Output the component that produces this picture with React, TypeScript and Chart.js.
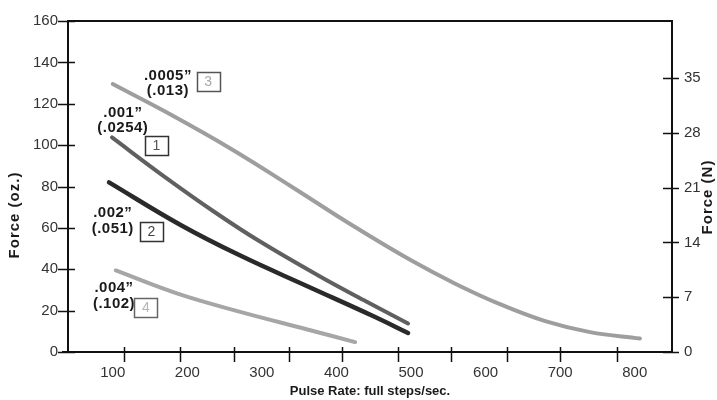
import React, { useEffect, useRef } from "react";
import { Chart, registerables } from "chart.js";

Chart.register(...registerables);

// Series: pulse rate (full steps/sec) and force (oz.)
const pulseRate3 = [100, 180, 260, 340, 420, 500, 560, 620, 680, 740, 807];
const force3 = [129.5, 114.3, 97.9, 79.9, 61.5, 44.3, 32.9, 23.0, 14.9, 9.6, 6.5];
const pulseRate1 = [99, 165, 236, 297, 378, 440, 496];
const force1 = [103.7, 85.9, 67.8, 53.5, 36.5, 24.4, 13.8];
const pulseRate2 = [95, 191, 271, 361, 449, 496];
const force2 = [82, 61.4, 46.6, 31.8, 17.4, 9.2];
const pulseRate4 = [104, 187, 271, 361, 425];
const force4 = [39.4, 28.2, 19.4, 10.9, 4.8];

// Axes
const xTickLabels = [100, 200, 300, 400, 500, 600, 700, 800];
const xTickMarks = [115, 190, 262, 336, 407, 482, 553, 629, 700, 776];
const ozTicks = [0, 20, 40, 60, 80, 100, 120, 140, 160];
const newtonTicks = [0, 7, 14, 21, 28, 35];

// Curve annotations (inch / mm, curve number)
const labelInch = ['.0005”', '.001”', '.002”', '.004”'];
const labelMm = ['(.013)', '(.0254)', '(.051)', '(.102)'];
const labelNum = ['3', '1', '2', '4'];
// anchors in data coordinates
const labelTextAt = [
  [174, 133.7, 126.2],
  [113.5, 115.4, 108.4],
  [100, 67.1, 59.6],
  [101.7, 31, 23.2],
];
const labelBoxAt = [
  [228, 130.9],
  [158.5, 99.7],
  [151.8, 58.2],
  [144.5, 21.6],
];
const boxStroke = ['#555', '#333', '#333', '#666'];
const boxText = ['#a8a8a8', '#555', '#444', '#b5b5b5'];

const FONT = '"Liberation Sans", Arial, Helvetica, sans-serif';

const toPoints = (xs: number[], ys: number[]) => xs.map((x, i) => ({ x, y: ys[i] }));

const decorPlugin = {
  id: 'decor',
  afterDraw(chart: any) {
    const ctx = chart.ctx as any;
    const { left, right, top, bottom } = chart.chartArea;
    const xs = chart.scales.x;
    const yl = chart.scales.y;
    const yr = chart.scales.y2;
    ctx.save();
    ctx.strokeStyle = '#111';
    ctx.lineWidth = 2;
    ctx.beginPath();
    ctx.moveTo(left, top);
    ctx.lineTo(right, top);
    ctx.lineTo(right, bottom);
    ctx.lineTo(left - 6, bottom);
    ctx.moveTo(left, top - 1);
    ctx.lineTo(left, bottom + 1);
    ctx.stroke();

    ctx.lineWidth = 1.5;
    ctx.beginPath();
    xTickMarks.forEach((v) => {
      const px = Math.round(xs.getPixelForValue(v)) + 0.5;
      ctx.moveTo(px, bottom - 5);
      ctx.lineTo(px, bottom + 10);
    });
    ozTicks.forEach((v) => {
      const py = Math.round(yl.getPixelForValue(v)) + 0.5;
      ctx.moveTo(left - 10, py);
      ctx.lineTo(left + 7, py);
    });
    newtonTicks.forEach((v) => {
      const py = Math.round(yr.getPixelForValue(v)) + 0.5;
      ctx.moveTo(right - 9, py);
      ctx.lineTo(right + 7, py);
    });
    ctx.stroke();

    // axis titles
    ctx.fillStyle = '#1a1a1a';
    ctx.textAlign = 'center';
    ctx.textBaseline = 'middle';
    ctx.font = `bold 13px ${FONT}`;
    ctx.fillText('Pulse Rate: full steps/sec.', (left + right) / 2, 391);
    ctx.save();
    ctx.letterSpacing = '1px';
    ctx.translate(15, 215);
    ctx.rotate(-Math.PI / 2);
    ctx.font = `bold 15px ${FONT}`;
    ctx.fillText('Force (oz.)', 0, 0);
    ctx.restore();
    ctx.save();
    ctx.letterSpacing = '1px';
    ctx.translate(708, 197);
    ctx.rotate(-Math.PI / 2);
    ctx.font = `bold 15px ${FONT}`;
    ctx.fillText('Force (N)', 0, 0);
    ctx.restore();

    // curve labels
    for (let i = 0; i < labelInch.length; i++) {
      const [tx, ty1, ty2] = labelTextAt[i];
      const px = xs.getPixelForValue(tx);
      ctx.save();
      ctx.letterSpacing = '0.5px';
      ctx.fillStyle = '#1a1a1a';
      ctx.font = `bold 15px ${FONT}`;
      ctx.fillText(labelInch[i], px, yl.getPixelForValue(ty1));
      ctx.fillText(labelMm[i], px, yl.getPixelForValue(ty2));
      ctx.restore();
      const [bx, by] = labelBoxAt[i];
      const bpx = xs.getPixelForValue(bx);
      const bpy = yl.getPixelForValue(by);
      ctx.strokeStyle = boxStroke[i];
      ctx.lineWidth = 1.5;
      ctx.strokeRect(Math.round(bpx - 11.5) + 0.5, Math.round(bpy - 9.5) + 0.5, 23, 19);
      ctx.fillStyle = boxText[i];
      ctx.font = `14px ${FONT}`;
      ctx.fillText(labelNum[i], bpx, bpy + 0.5);
    }
    ctx.restore();
  },
};

export default function App() {
  const ref = useRef<HTMLCanvasElement | null>(null);
  useEffect(() => {
    if (!ref.current) return;
    const lineDs = (label: string, xs: number[], ys: number[], color: string, w: number) => ({
      label,
      data: toPoints(xs, ys),
      borderColor: color,
      backgroundColor: color,
      borderWidth: w,
      pointRadius: 0,
      tension: 0.4,
      borderCapStyle: 'round' as const,
      fill: false,
      yAxisID: 'y',
    });
    const tickFont = { family: FONT, size: 15 };
    const chart = new Chart(ref.current, {
      type: 'line',
      data: {
        datasets: [
          lineDs('3', pulseRate3, force3, '#9e9e9e', 4),
          lineDs('1', pulseRate1, force1, '#606060', 4),
          lineDs('2', pulseRate2, force2, '#2a2a2a', 4.5),
          lineDs('4', pulseRate4, force4, '#a6a6a6', 4),
        ],
      },
      options: {
        animation: false,
        responsive: false,
        layout: { padding: { left: 0, right: 0, top: 11, bottom: 0 } },
        plugins: { legend: { display: false }, tooltip: { enabled: false } },
        scales: {
          x: {
            type: 'linear',
            min: 40,
            max: 850,
            grid: { display: false, drawTicks: false },
            border: { display: false },
            afterBuildTicks: (s: any) => {
              s.ticks = xTickLabels.map((v) => ({ value: v }));
            },
            afterFit: (s: any) => {
              s.height = 48;
            },
            ticks: { font: tickFont, color: '#333', padding: 12, maxRotation: 0, autoSkip: false },
          },
          y: {
            type: 'linear',
            position: 'left',
            min: 0,
            max: 160,
            grid: { display: false, drawTicks: false },
            border: { display: false },
            afterBuildTicks: (s: any) => {
              s.ticks = ozTicks.map((v) => ({ value: v }));
            },
            afterFit: (s: any) => {
              s.width = 68;
            },
            ticks: { font: tickFont, color: '#333', padding: 10, autoSkip: false },
          },
          y2: {
            type: 'linear',
            position: 'right',
            min: 0,
            max: 42.3,
            grid: { display: false, drawTicks: false },
            border: { display: false },
            afterBuildTicks: (s: any) => {
              s.ticks = newtonTicks.map((v) => ({ value: v }));
            },
            afterFit: (s: any) => {
              s.width = 45;
            },
            ticks: { font: tickFont, color: '#333', padding: 12, autoSkip: false },
          },
        },
      },
      plugins: [decorPlugin],
    });
    return () => chart.destroy();
  }, []);
  return (
    <div style={{ position: 'absolute', left: 0, top: 0, width: 717, height: 400, background: '#fff' }}>
      <canvas ref={ref} width={717} height={400} style={{ display: 'block' }} />
    </div>
  );
}
